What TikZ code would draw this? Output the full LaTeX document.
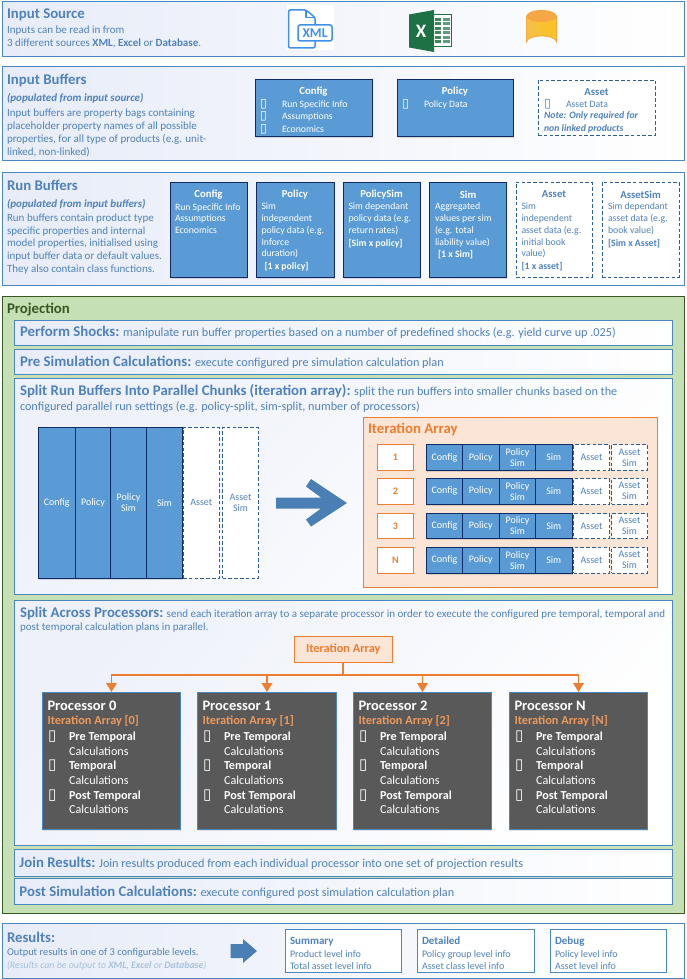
\documentclass[tikz,border=0pt]{standalone}
\usepackage{fontspec}
\setmainfont{Carlito}
\newfontfamily\djv{DejaVu Sans}
\usetikzlibrary{arrows.meta,shadows,calc}
\definecolor{edgeblue}{HTML}{4A86C0}
\definecolor{txtblue}{HTML}{4F82BC}
\definecolor{cellblue}{HTML}{5B9BD5}
\definecolor{navy}{HTML}{102A66}
\definecolor{dashblue}{HTML}{2F5F8F}
\definecolor{lav}{HTML}{E7ECF8}
\definecolor{lavb}{HTML}{EEF1FA}
\definecolor{orng}{HTML}{ED7D31}
\definecolor{peach}{HTML}{FBE5D6}
\definecolor{grn}{HTML}{C5E0B4}
\definecolor{dgrn}{HTML}{385723}
\definecolor{pgrey}{HTML}{595959}
\definecolor{softor}{HTML}{EE9A5C}
\definecolor{arrowb}{HTML}{4A7FB5}
\definecolor{xmlb}{HTML}{3F90EE}
\definecolor{xlg}{HTML}{1E7145}
\definecolor{dba}{HTML}{F5C04A}
\definecolor{dbb}{HTML}{FFF3B0}
\definecolor{dbc}{HTML}{FBC21F}
\definecolor{dbt}{HTML}{F4A742}
\newcommand\fs[2]{\fontsize{#1}{#2}\selectfont}
\newcommand\tofu{\smash{\djv\fontsize{12.5}{12.5}\selectfont ▯}}
\newcommand\tofub{\smash{\djv\fontsize{15}{15}\selectfont ▯}}
\newcommand\li[2][19pt]{\makebox[#1][l]{\tofu}#2}
\newcommand\lib[1]{\makebox[21pt][l]{\tofub}#1}
\newcounter{tn}
\newcommand\tx[3][]{\stepcounter{tn}\node[lab,#1] (t\arabic{tn}) at (#2) {#3};}
\tikzset{
  rect/.style n args={4}{at={(#1,#2)},anchor=north west,minimum width={(#3-#1)*1pt},minimum height={(#4-#2)*1pt}},
  base/.style={inner sep=0pt,outer sep=0pt,line width=.9pt,draw=edgeblue},
  panel/.style={base,left color=lav,middle color=white,right color=white},
  bigpanel/.style={base,shading=axis,left color=lavb,middle color=white,right color=white,shading angle=50},
  cell/.style={inner sep=0pt,outer sep=0pt,draw=navy,line width=1pt,fill=cellblue,text=white,align=center,font=\fs{10}{11},
     drop shadow={shadow xshift=.6pt,shadow yshift=-1.6pt,opacity=.22,fill=black!60}},
  dcell/.style={inner sep=0pt,outer sep=0pt,draw=dashblue,line width=.9pt,dash pattern=on 3.6pt off 2.2pt,fill=white,text=txtblue,align=center,font=\fs{10}{11}},
  numbox/.style={inner sep=0pt,outer sep=0pt,draw=orng,line width=.9pt,fill=white,text=orng,font=\fs{10}{11}\bfseries},
  proc/.style={inner sep=0pt,outer sep=0pt,draw=edgeblue,line width=.9pt,fill=pgrey,
     drop shadow={shadow xshift=.6pt,shadow yshift=-1.6pt,opacity=.2,fill=black!50}},
  lab/.style={inner sep=0pt,outer sep=0pt,anchor=west,align=left,text=txtblue},
  head/.style={lab,font=\fs{14.8}{17}\bfseries},
  body/.style={lab,font=\fs{11}{13}},
  sect/.style={lab,font=\fs{12.2}{14}},
  small/.style={lab,font=\fs{9.75}{12}},
  ctitle/.style={anchor=center,font=\fs{10.7}{12}\bfseries},
  conn/.style={draw=orng,line width=1.8pt,-{Triangle[width=10.5pt,length=9pt]}},
}
\newcommand\st[1]{{\fs{14.8}{17}\bfseries #1}}
\begin{document}
\begin{tikzpicture}[x=1pt,y=-1pt]
\useasboundingbox (0,0) rectangle (686,979);
%% Input source
\node[panel,rect={2}{1.5}{684.5}{56.5}] (src) {};
\tx[head]{7,15}{Input Source}
\tx[body]{7,36.5}{Inputs can be read in from\\3 different sources \textbf{XML}, \textbf{Excel} or \textbf{Database}.}
% XML icon
\fill[white] (287,5) rectangle (333.5,50);
\draw[xmlb,line width=1.5pt,line join=round,rounded corners=1.5pt] (315,25) -- (315,17.5) -- (306,10) -- (288.5,10) -- (288.5,48) -- (315,48) -- (315,41);
\draw[xmlb,line width=1.2pt,line join=round] (306,10) -- (306,17.5) -- (315,17.5);
\node[draw=xmlb,line width=1.5pt,rounded corners=2pt,rect={298}{25}{332}{41},inner sep=0pt,outer sep=0pt,text=xmlb,font=\fs{13.5}{13}\bfseries] (xmltag) {XML};
% Excel icon
\fill[white] (434,14) rectangle (452,47);
\draw[xlg,line width=.9pt] (434,14.5) -- (451.5,14.5) -- (451.5,46.5) -- (434,46.5);
\foreach \yy in {18,22.5,27,31.5,36,40.5}{
  \fill[xlg!85] (435,\yy) rectangle (441,\yy+3);
  \fill[xlg!70] (442.5,\yy) rectangle (449.5,\yy+3);
}
\fill[xlg] (409,14.5) -- (434,10) -- (434,52) -- (409,47.5) -- cycle;
\node[inner sep=0pt,text=white,font=\fs{19}{19}\bfseries] (xlx) at (421,31) {X};
% Database icon
\shade[left color=dba,middle color=dbb,right color=dbc,draw=dbt,line width=.8pt] (526.5,16) -- (526.5,42) arc[start angle=180,end angle=360,x radius=15,y radius=6] -- (556.5,16) -- cycle;
\fill[dbt] (541.5,16) ellipse[x radius=15,y radius=6];
%% Input buffers
\node[panel,rect={2}{66.5}{684.5}{160.5}] (inb) {};
\tx[head]{7,80}{Input Buffers}
\tx[body]{7,98}{\textbf{\textit{(populated from input source)}}}
\tx[body]{7,132.5}{Input buffers are property bags containing\\placeholder property names of all possible\\properties, for all type of products (e.g. unit-\\linked, non-linked)}
\node[cell,rect={255}{80}{372}{136}] (icfg) {};
\node[cell,rect={397}{80}{513}{136}] (ipol) {};
\node[dcell,rect={538}{80}{655}{135.5}] (iast) {};
\tx[ctitle,text=white]{313.5,92}{Config}
\tx[small,text=white,font=\fs{9.75}{12.4}]{260,116.5}{\li[22pt]{Run Specific Info}\\\li[22pt]{Assumptions}\\\li[22pt]{Economics}}
\tx[ctitle,text=white]{455,92}{Policy}
\tx[small,text=white]{402,105}{\li[22pt]{Policy Data}}
\tx[ctitle]{596.5,92}{Asset}
\tx[small]{544,104}{\li[22pt]{Asset Data}}
\tx[small,font=\fs{9.75}{12.6}\bfseries\itshape]{544,122.5}{Note: Only required for\\non linked products}
%% Run buffers
\node[panel,rect={2}{172}{684.5}{285}] (runb) {};
\tx[head]{7,185}{Run Buffers}
\tx[body]{7,204}{\textbf{\textit{(populated from input buffers)}}}
\tx[body,font=\fs{11}{12.9}]{7,244}{Run buffers contain product type\\specific properties and internal\\model properties, initialised using\\input buffer data or default values.\\They also contain class functions.}
\node[cell,rect={170.5}{182}{247}{277}] (rcfg) {};
\node[cell,rect={256}{182}{334}{277}] (rpol) {};
\node[cell,rect={343.5}{182}{420}{277}] (rps) {};
\node[cell,rect={429.5}{182}{506.5}{277}] (rsim) {};
\node[dcell,rect={516}{182}{592}{277}] (rast) {};
\node[dcell,rect={602}{182}{679}{277}] (rasm) {};
\tx[ctitle,text=white]{208.5,194.5}{Config}
\tx[ctitle,text=white]{295,194.5}{Policy}
\tx[ctitle,text=white]{381.5,194.5}{PolicySim}
\tx[ctitle,text=white]{468,194.5}{Sim}
\tx[ctitle]{554,194.5}{Asset}
\tx[ctitle]{640.5,194.5}{AssetSim}
\tx[small,text=white,font=\fs{9.75}{11.8}]{175,218.5}{Run Specific Info\\Assumptions\\Economics}
\tx[small,text=white,font=\fs{9.75}{11.8},anchor=north west]{261.5,203}{Sim\\independent\\policy data (e.g.\\Inforce\\duration)\\[1pt]\hspace*{3pt}\textbf{[1 x policy]}}
\tx[small,text=white,font=\fs{9.75}{11.8},anchor=north west]{348.5,203}{Sim dependant\\policy data (e.g.\\return rates)\\[1pt]\textbf{[Sim x policy]}}
\tx[small,text=white,font=\fs{9.75}{11.8},anchor=north west]{435,203}{Aggregated\\values per sim\\(e.g. total\\liability value)\\[1pt]\hspace*{3pt}\textbf{[1 x Sim]}}
\tx[small,font=\fs{9.75}{11.8},anchor=north west]{521.5,203}{Sim\\independent\\asset data (e.g.\\initial book\\value)\\[1pt]\textbf{[1 x asset]}}
\tx[small,font=\fs{9.75}{11.8},anchor=north west]{608,203}{Sim dependant\\asset data (e.g.\\book value)\\[1pt]\textbf{[Sim x Asset]}}
%% Projection
\node[inner sep=0pt,outer sep=0pt,draw=dgrn,line width=1pt,fill=grn,rect={2}{296}{684.5}{913}] (proj) {};
\tx[font=\fs{14.8}{17}\bfseries,text=dgrn]{7,310}{Projection}
\node[panel,rect={14.5}{320}{672.5}{345}] (shock) {};
\tx[sect]{20,332.5}{\st{Perform Shocks:} manipulate run buffer properties based on a number of predefined shocks (e.g. yield curve up .025)}
\node[panel,rect={14.5}{349}{672.5}{374}] (presim) {};
\tx[sect]{20,362}{\st{Pre Simulation Calculations:} execute configured pre simulation calculation plan}
\node[bigpanel,rect={14.5}{378}{672.5}{594}] (split) {};
\tx[sect]{20,391.5}{\st{Split Run Buffers Into Parallel Chunks (iteration array):} split the run buffers into smaller chunks based on the}
\tx[sect]{20,407}{configured parallel run settings (e.g. policy-split, sim-split, number of processors)}
% stack
\node[cell,rect={38.5}{427.5}{75}{578}] (scfg) {Config};
\node[cell,rect={75.5}{427.5}{110.5}{578}] (spol) {Policy};
\node[cell,rect={110.5}{427.5}{146.5}{578}] (sps) {Policy\\Sim};
\node[cell,rect={146.5}{427.5}{182.5}{578}] (ssim) {Sim};
\node[dcell,rect={183}{427.5}{219.5}{578}] (sast) {Asset};
\node[dcell,rect={222.5}{427.5}{258.5}{578}] (sasm) {Asset\\Sim};
\fill[arrowb] (276,497.5) -- (321,497.5) -- (306,486.5) -- (311,479) -- (347,503) -- (311,526.5) -- (306,519.5) -- (321,508.5) -- (276,508.5) -- cycle;
% iteration array
\node[inner sep=0pt,outer sep=0pt,draw=orng,line width=.9pt,fill=peach,rect={363.5}{417}{657.5}{587}] (iter) {};
\tx[font=\fs{14.8}{17}\bfseries,text=orng]{368,429.5}{Iteration Array}
\foreach \rw/\ya/\yb/\lb in {1/444.5/470.5/1,2/478.5/504/2,3/513.5/538.5/3,4/547.5/573/N}{
  \node[numbox,rect={377.5}{\ya}{413.5}{\yb}] (n\rw) {\lb};
  \node[cell,rect={426.5}{\ya}{462.5}{\yb}] (c\rw) {Config};
  \node[cell,rect={462.5}{\ya}{499}{\yb}] (p\rw) {Policy};
  \node[cell,rect={499.5}{\ya}{535.5}{\yb}] (ps\rw) {Policy\\Sim};
  \node[cell,rect={535.5}{\ya}{572}{\yb}] (si\rw) {Sim};
  \node[dcell,rect={573.5}{\ya}{609.5}{\yb}] (as\rw) {Asset};
  \node[dcell,rect={611.5}{\ya}{647.5}{\yb}] (am\rw) {Asset\\Sim};
}
% split across
\node[bigpanel,rect={14.5}{600}{672.5}{845.5}] (across) {};
\tx[body]{20,613}{\st{Split Across Processors:} send each iteration array to a separate processor in order to execute the configured pre temporal, temporal and}
\tx[body]{20,628}{post temporal calculation plans in parallel.}
\node[inner sep=0pt,outer sep=0pt,draw=orng,line width=.9pt,fill=peach,text=orng,font=\fs{12.3}{13}\bfseries,rect={294.5}{636.5}{392}{662}] (ia) {Iteration Array};
\foreach \i/\xa/\xb/\lb in {0/42.5/180.5/0,1/197.5/336.5/1,2/353.5/491.5/2,3/509.5/647.5/N}{
  \node[proc,rect={\xa}{692}{\xb}{829.5}] (pr\i) {};
  \tx[font=\fs{14.5}{17}\bfseries,text=white]{\xa+5,705.5}{Processor \lb}
  \tx[font=\fs{12.3}{14}\bfseries,text=softor]{\xa+5,721}{Iteration Array [\lb]}
  \tx[font=\fs{12.2}{14.55},text=white]{\xa+5.5,773}{\lib{\textbf{Pre Temporal}}\\\hspace*{21pt}Calculations\\\lib{\textbf{Temporal}}\\\hspace*{21pt}Calculations\\\lib{\textbf{Post Temporal}}\\\hspace*{21pt}Calculations}
}
\path (ia.south) ++(0,13) coordinate (bus);
\foreach \i in {0,1,2,3}{\draw[conn] (ia.south) -- (bus) -| (pr\i.north);}
\node[panel,rect={14.5}{849.5}{672.5}{876}] (join) {};
\tx[sect]{19.5,863}{\st{Join Results:} Join results produced from each individual processor into one set of projection results}
\node[panel,rect={14.5}{878}{672.5}{904}] (post) {};
\tx[sect]{19.5,892.5}{\st{Post Simulation Calculations:} execute configured post simulation calculation plan}
%% Results
\node[panel,rect={2}{923.5}{684.5}{978}] (res) {};
\tx[head]{7,937}{Results:}
\tx[body,font=\fs{10.4}{13}]{7,953}{Output results in one of 3 configurable levels.}
\tx[body,font=\fs{9.85}{12}\itshape,text=txtblue!50]{7,966}{(Results can be output to \textbf{XML}, \textbf{Excel} or \textbf{Database})}
\fill[arrowb] (230.5,944) -- (243,944) -- (243,939) -- (257,951) -- (243,963) -- (243,958) -- (230.5,958) -- cycle;
\foreach \nm/\xa/\xb/\tl/\la/\lb in {rs/285/401.5/Summary/Product level info/Total asset level info,rd/417/534/Detailed/Policy group level info/Asset class level info,rg/550/666/Debug/Policy level info/Asset level info}{
  \node[base,fill=white,rect={\xa}{929}{\xb}{972.5}] (\nm) {};
  \tx[small,font=\fs{10}{12.6}]{\xa+5,953.5}{{\fs{11}{12.6}\bfseries \tl}\\\la\\\lb}
}
\end{tikzpicture}
\end{document}
